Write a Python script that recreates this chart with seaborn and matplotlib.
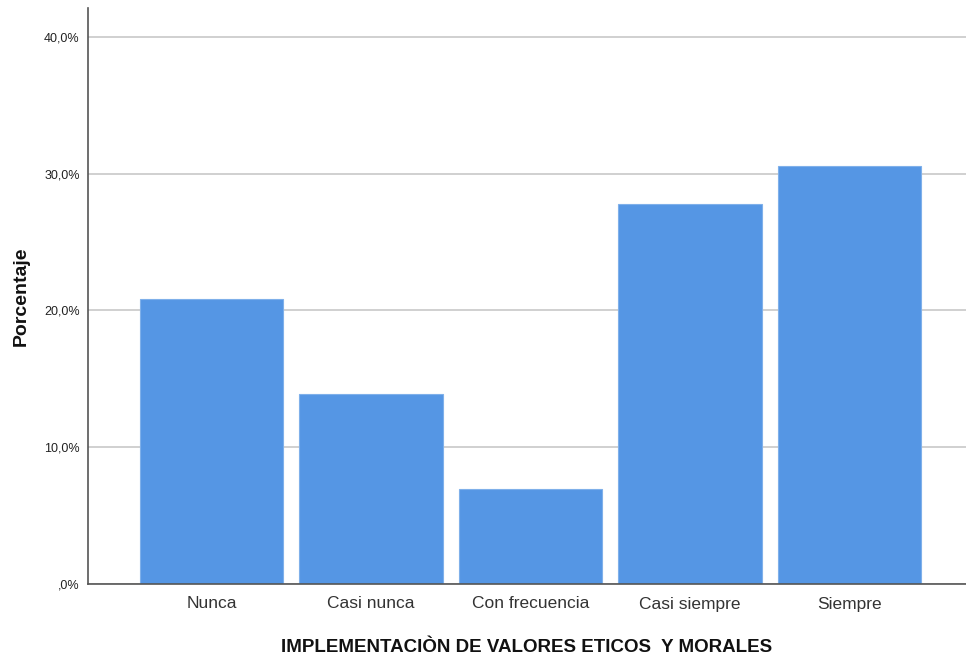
import matplotlib
matplotlib.use("Agg")
import matplotlib.pyplot as plt
from matplotlib.ticker import FuncFormatter
import seaborn as sns
import pandas as pd

categorias = ["Nunca", "Casi nunca", "Con frecuencia", "Casi siempre", "Siempre"]
porcentajes = [20.83, 13.89, 6.94, 27.78, 30.56]
ticks_y = [0, 10, 20, 30, 40]

df = pd.DataFrame({"categoria": categorias, "porcentaje": porcentajes})

sns.set_theme(style="white")
plt.rcParams["font.family"] = ["Liberation Sans", "DejaVu Sans"]

fig = plt.figure(figsize=(9.66, 6.61), dpi=100)
ax = fig.add_axes([88 / 966, 1 - 584 / 661, 1 - 88 / 966, (584 - 8) / 661])

ax.yaxis.grid(True, color="#C8C8C8", linewidth=1.2)
ax.set_axisbelow(True)

sns.barplot(data=df, x="categoria", y="porcentaje", order=categorias,
            color="#5596E4", saturation=1, width=0.9,
            edgecolor="#7FB0EA", linewidth=0.8, ax=ax)

ax.set_xlim(-0.775, 4.73)
ax.set_ylim(0, 42.1)
ax.set_yticks(ticks_y)
ax.yaxis.set_major_formatter(FuncFormatter(
    lambda v, _: (",0%" if v == 0 else f"{v:.1f}%".replace(".", ","))))

for s in ["top", "right"]:
    ax.spines[s].set_visible(False)
for s in ["left", "bottom"]:
    ax.spines[s].set_color("#555555")
    ax.spines[s].set_linewidth(1.2)

ax.tick_params(axis="y", length=0, pad=6, labelsize=9, labelcolor="#222222")
ax.tick_params(axis="x", length=0, pad=9, labelsize=12.5, labelcolor="#333333")

ax.set_xlabel("IMPLEMENTACIÒN DE VALORES ETICOS  Y MORALES",
              fontsize=13.5, fontweight="bold", color="#111111", labelpad=20)
ax.set_ylabel("Porcentaje", fontsize=14, fontweight="bold",
              color="#111111", labelpad=10)

fig.savefig("out.png", dpi=100, facecolor="white")
